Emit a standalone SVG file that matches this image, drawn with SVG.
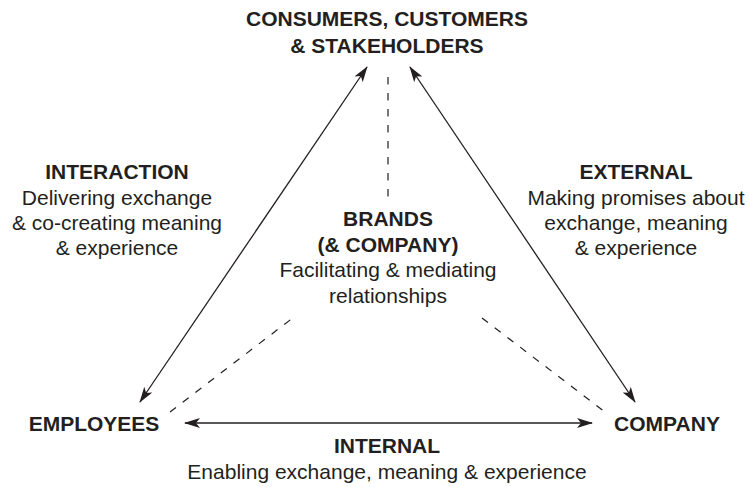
<svg xmlns="http://www.w3.org/2000/svg" width="749" height="487" viewBox="0 0 749 487">
<style>
text{font-family:"Liberation Sans",Arial,Helvetica,sans-serif;font-size:21px;fill:#231f20;text-anchor:middle}
.b{font-weight:bold}
.arr{stroke:#231f20;stroke-width:1.3;fill:none;marker-start:url(#ah);marker-end:url(#ah)}
.dash{stroke:#231f20;stroke-width:1.2;fill:none;stroke-dasharray:7.5 8.5}
</style>
<defs>
<marker id="ah" viewBox="0 0 16 10" refX="15" refY="5" markerWidth="16" markerHeight="10" markerUnits="userSpaceOnUse" orient="auto-start-reverse">
<path d="M0,0 L16,5 L0,10 L4,5 z" fill="#231f20"/>
</marker>
</defs>
<rect width="749" height="487" fill="#fff"/>
<g id="connectors">
<line class="arr" x1="367" y1="67" x2="140" y2="402"/>
<line class="arr" x1="410" y1="67" x2="635" y2="402"/>
<line class="arr" x1="185" y1="423" x2="592" y2="423"/>
<line class="dash" x1="388" y1="77" x2="388" y2="200"/>
<line class="dash" x1="170" y1="412" x2="294" y2="317"/>
<line class="dash" x1="482" y1="318" x2="605" y2="412"/>
</g>
<g id="consumers">
<text class="b" x="387" y="26">CONSUMERS, CUSTOMERS</text>
<text class="b" x="387" y="53">&amp; STAKEHOLDERS</text>
</g>
<g id="employees">
<text class="b" x="94" y="431">EMPLOYEES</text>
</g>
<g id="company">
<text class="b" x="667" y="431">COMPANY</text>
</g>
<g id="brands">
<text class="b" x="388" y="226">BRANDS</text>
<text class="b" x="388" y="252">(&amp; COMPANY)</text>
<text x="388" y="277">Facilitating &amp; mediating</text>
<text x="388" y="303">relationships</text>
</g>
<g id="interaction">
<text class="b" x="117" y="179">INTERACTION</text>
<text x="117" y="205">Delivering exchange</text>
<text x="117" y="230">&amp; co-creating meaning</text>
<text x="117" y="255">&amp; experience</text>
</g>
<g id="external">
<text class="b" x="636" y="179">EXTERNAL</text>
<text x="636" y="205">Making promises about</text>
<text x="636" y="230">exchange, meaning</text>
<text x="636" y="255">&amp; experience</text>
</g>
<g id="internal">
<text class="b" x="387" y="453">INTERNAL</text>
<text x="387" y="479">Enabling exchange, meaning &amp; experience</text>
</g>
</svg>
